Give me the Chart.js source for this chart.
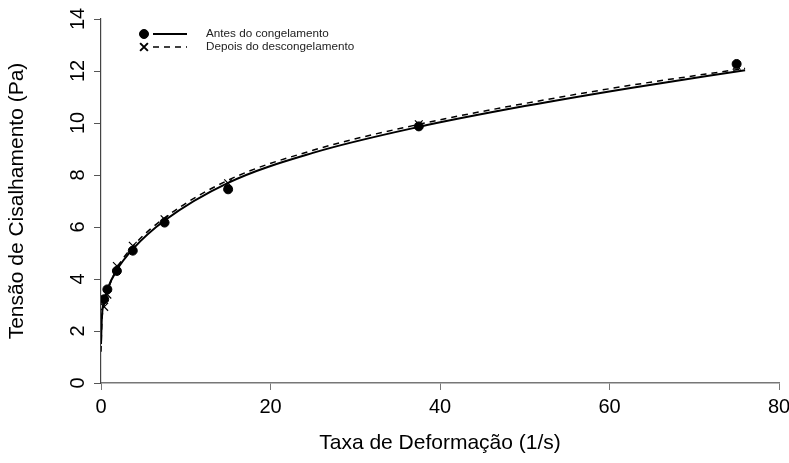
<!DOCTYPE html>
<html>
<head>
<meta charset="utf-8">
<script src="https://cdn.jsdelivr.net/npm/chart.js@4"></script>
<style>
  html, body { margin: 0; padding: 0; background: #fff; }
  #wrap { width: 789px; height: 463px; }
</style>
</head>
<body>
<div id="wrap"><canvas id="c" width="789" height="463"></canvas></div>
<script>
// Shear rate steps (1/s) and measured shear stress (Pa)
const shearRates = [0.375, 0.75, 1.875, 3.75, 7.5, 15, 37.5, 75];
const stressBefore = [3.22, 3.6, 4.31, 5.09, 6.17, 7.45, 9.87, 12.27];
const stressAfter = [2.93, 3.4, 4.5, 5.28, 6.3, 7.68, 9.95, 12.2];

// Fitted flow curves
const fitRates = [0, 0.1, 0.375, 0.75, 1.875, 3.75, 7.5, 15, 25, 37.5, 50, 62.5, 76];
const fitBefore = [1.5, 2.5, 3.15, 3.6, 4.35, 5.15, 6.25, 7.7, 8.85, 9.85, 10.65, 11.35, 12.03];
const fitAfter = [1.2, 2.3, 3.0, 3.5, 4.4, 5.25, 6.35, 7.8, 8.95, 9.95, 10.75, 11.45, 12.1];

// Axis ticks
const xTicks = [0, 20, 40, 60, 80];
const yTicks = [0, 2, 4, 6, 8, 10, 12, 14];

const legendLabels = ['Antes do congelamento', 'Depois do descongelamento'];
const xTitle = 'Taxa de Deformação (1/s)';
const yTitle = 'Tensão de Cisalhamento (Pa)';

const pts = (xs, ys) => xs.map((x, i) => ({ x, y: ys[i] }));
const FONT = '"Liberation Sans", Arial, sans-serif';

// Legend drawn in the upper-left corner of the plot: marker + line sample + label
const legendPlugin = {
  id: 'cornerLegend',
  afterDatasetsDraw(chart) {
    const { ctx, chartArea } = chart;
    const x0 = chartArea.left + 43;
    const rows = [
      { y: chartArea.top + 15, dash: [], width: 2, style: 'circle', r: 4.5 },
      { y: chartArea.top + 28, dash: [6, 5], width: 1.5, style: 'crossRot', r: 5.5 }
    ];
    ctx.save();
    rows.forEach((row, i) => {
      ctx.strokeStyle = '#000';
      ctx.fillStyle = '#000';
      Chart.helpers.drawPoint(ctx, { pointStyle: row.style, radius: row.r, borderWidth: 1.2 }, x0, row.y);
      ctx.setLineDash(row.dash);
      ctx.lineWidth = row.width;
      ctx.beginPath();
      ctx.moveTo(x0 + 9, row.y);
      ctx.lineTo(x0 + 43, row.y);
      ctx.stroke();
      ctx.setLineDash([]);
      ctx.font = '11.7px ' + FONT;
      ctx.textBaseline = 'middle';
      ctx.textAlign = 'left';
      ctx.fillStyle = '#222';
      ctx.fillText(legendLabels[i], x0 + 62, row.y);
    });
    ctx.restore();
  }
};

new Chart(document.getElementById('c'), {
  type: 'scatter',
  data: {
    datasets: [
      {
        label: legendLabels[0] + ' (ajuste)',
        data: pts(fitRates, fitBefore),
        showLine: true,
        borderColor: '#000',
        borderWidth: 2,
        pointRadius: 0,
        cubicInterpolationMode: 'monotone',
        fill: false
      },
      {
        label: legendLabels[1] + ' (ajuste)',
        data: pts(fitRates, fitAfter),
        showLine: true,
        borderColor: '#000',
        borderWidth: 1.5,
        borderDash: [6, 5],
        pointRadius: 0,
        cubicInterpolationMode: 'monotone',
        fill: false
      },
      {
        label: legendLabels[0],
        data: pts(shearRates, stressBefore),
        pointStyle: 'circle',
        pointRadius: 4.5,
        backgroundColor: '#000',
        borderColor: '#000',
        borderWidth: 1
      },
      {
        label: legendLabels[1],
        data: pts(shearRates, stressAfter),
        pointStyle: 'crossRot',
        pointRadius: 5.5,
        borderColor: '#000',
        borderWidth: 1.2
      }
    ]
  },
  options: {
    responsive: false,
    animation: false,
    layout: { padding: { left: 0, right: 10, top: 19, bottom: 0 } },
    plugins: {
      legend: { display: false },
      tooltip: { enabled: false }
    },
    scales: {
      x: {
        type: 'linear',
        min: 0,
        max: 80,
        afterBuildTicks(scale) { scale.ticks = xTicks.map(v => ({ value: v })); },
        afterFit(scale) { scale.height = 80; scale.paddingLeft = 0; scale.paddingRight = 0; },
        grid: { drawOnChartArea: false, drawTicks: true, tickLength: 7, color: '#777', lineWidth: 1 },
        border: { display: true, color: '#777', width: 1.5 },
        ticks: { color: '#000', font: { family: FONT, size: 20 }, padding: 5, maxRotation: 0 },
        title: { display: true, text: xTitle, color: '#000', font: { family: FONT, size: 21 }, padding: { top: 0, bottom: 7 } }
      },
      y: {
        type: 'linear',
        min: 0,
        max: 14,
        afterBuildTicks(scale) { scale.ticks = yTicks.map(v => ({ value: v })); },
        afterFit(scale) { scale.width = 101; scale.paddingTop = 0; scale.paddingBottom = 0; },
        grid: { drawOnChartArea: false, drawTicks: true, tickLength: 7, color: '#555', lineWidth: 1 },
        border: { display: true, color: '#444', width: 1.2 },
        ticks: { color: '#000', font: { family: FONT, size: 20 }, padding: 4, minRotation: 90, maxRotation: 90, crossAlign: 'center' },
        title: { display: true, text: yTitle, color: '#000', font: { family: FONT, size: 21 }, padding: { top: 5, bottom: 0 } }
      }
    }
  },
  plugins: [legendPlugin]
});
</script>
</body>
</html>
